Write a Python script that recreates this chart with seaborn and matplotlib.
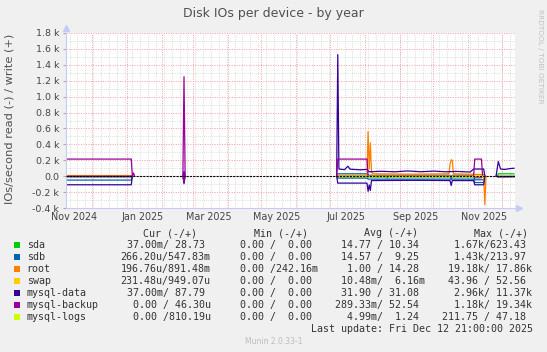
import seaborn as sns
import matplotlib.pyplot as plt
import matplotlib.dates as mdates
import matplotlib.ticker as mticker
from matplotlib.patches import Rectangle
import pandas as pd
import numpy as np

# values: (date, IOs/s), None = no data
sda_read = [("2024-11-08", 0), ("2025-01-05", 0), None,
            ("2025-07-08", -8), ("2025-08-20", -10), ("2025-08-21", -24), ("2025-08-22", -8),
            ("2025-11-15", -8), None, ("2025-11-27", -3), ("2025-12-12", -3)]
sda_write = [("2024-11-08", 0), ("2025-01-05", 0), None,
             ("2025-07-08", 6), ("2025-11-15", 6), None,
             ("2025-11-27", 0), ("2025-11-28", 30), ("2025-12-12", 30)]
sdb_read = [("2024-11-08", -49), ("2025-01-05", -49), ("2025-01-06", 0), None,
            ("2025-07-07", 0), ("2025-07-08", -24), ("2025-08-03", -24), ("2025-08-04", -37),
            ("2025-11-06", -37), ("2025-11-07", -80), ("2025-11-15", -80), ("2025-11-16", 0), None,
            ("2025-11-27", -2), ("2025-12-12", -2)]
sdb_write = [("2024-11-08", 0), ("2025-01-05", 0), None,
             ("2025-07-07", 0), ("2025-07-08", 30), ("2025-08-03", 30), ("2025-08-04", 12),
             ("2025-10-16", 12), ("2025-10-17", -40), ("2025-10-18", 12),
             ("2025-11-06", 12), ("2025-11-07", -45), ("2025-11-15", -45), None,
             ("2025-11-27", 5), ("2025-12-12", 5)]
root_read = [("2024-11-08", 0), ("2025-01-05", 0), None,
             ("2025-07-08", -4), ("2025-11-15", -4), ("2025-11-16", -360), ("2025-11-17", 0), None,
             ("2025-11-27", -2), ("2025-12-12", -2)]
root_write = [("2024-11-08", 8), ("2025-01-05", 8), ("2025-01-06", 0), None,
              ("2025-07-08", 10), ("2025-08-03", 10), ("2025-08-04", 562), ("2025-08-05", 90),
              ("2025-08-06", 420), ("2025-08-07", 60), ("2025-08-08", 30), ("2025-09-10", 25),
              ("2025-10-15", 30), ("2025-10-16", 150), ("2025-10-17", 206), ("2025-10-18", 200),
              ("2025-10-19", 30), ("2025-11-15", 20), None,
              ("2025-11-27", 5), ("2025-12-12", 5)]
swap_read = [("2025-07-08", -2), ("2025-11-15", -2)]
swap_write = [("2025-07-08", 3), ("2025-08-08", 3), ("2025-08-09", 18), ("2025-08-12", 3),
              ("2025-11-15", 3)]
data_read = [("2024-11-08", -108), ("2025-01-05", -108), ("2025-01-06", 0), None,
             ("2025-02-20", 0), ("2025-02-21", -95), ("2025-02-22", 0), None,
             ("2025-07-07", 0), ("2025-07-08", -87), ("2025-08-03", -87), ("2025-08-04", -190),
             ("2025-08-05", -110), ("2025-08-06", -180), ("2025-08-07", -55), ("2025-09-15", -52),
             ("2025-10-16", -55), ("2025-10-17", -117), ("2025-10-18", -55), ("2025-11-06", -55),
             ("2025-11-07", -108), ("2025-11-15", -108), ("2025-11-16", 0), None,
             ("2025-11-26", 0), ("2025-11-28", -8), ("2025-12-12", -5)]
data_write = [("2024-11-08", 0), ("2025-01-05", 0), None,
              ("2025-02-20", 0), ("2025-02-21", 60), ("2025-02-22", 0), None,
              ("2025-07-07", 0), ("2025-07-08", 1527), ("2025-07-09", 90), ("2025-07-14", 82),
              ("2025-07-17", 125), ("2025-07-19", 88), ("2025-07-28", 80), ("2025-08-03", 85),
              ("2025-08-05", 55), ("2025-08-15", 62), ("2025-08-28", 55), ("2025-09-08", 66),
              ("2025-09-20", 56), ("2025-10-02", 64), ("2025-10-12", 55), ("2025-10-22", 60),
              ("2025-11-03", 52), ("2025-11-06", 90), ("2025-11-15", 90), ("2025-11-16", 0), None,
              ("2025-11-26", 0), ("2025-11-28", 185), ("2025-11-30", 90), ("2025-12-04", 85),
              ("2025-12-08", 95), ("2025-12-12", 100)]
backup_read = [("2024-11-08", 0), ("2025-01-05", 0), None,
               ("2025-02-20", 0), ("2025-02-21", -70), ("2025-02-22", 0), None,
               ("2025-07-08", -3), ("2025-11-06", -3), ("2025-11-07", -20), ("2025-11-13", -20),
               ("2025-11-14", 0), None]
backup_write = [("2024-11-08", 215), ("2025-01-05", 215), ("2025-01-06", 0), ("2025-01-07", 40),
                ("2025-01-08", 0), None,
                ("2025-02-20", 0), ("2025-02-21", 1250), ("2025-02-22", 0), None,
                ("2025-07-07", 0), ("2025-07-08", 215), ("2025-08-03", 215), ("2025-08-04", 0),
                ("2025-11-06", 0), ("2025-11-07", 215), ("2025-11-13", 215), ("2025-11-14", 0), None]
logs_read = [("2025-07-08", 0), ("2025-11-15", 0)]
logs_write = [("2025-07-08", 0), ("2025-11-15", 0)]

names = ["sda", "sdb", "root", "swap", "mysql-data", "mysql-backup", "mysql-logs"]
colors = ["#00CC00", "#0066B3", "#FF8000", "#FFCC00", "#330099", "#990099", "#CCFF00"]
reads = [sda_read, sdb_read, root_read, swap_read, data_read, backup_read, logs_read]
writes = [sda_write, sdb_write, root_write, swap_write, data_write, backup_write, logs_write]

cur = [" 37.00m/ 28.73", "266.20u/547.83m", "196.76u/891.48m", "231.48u/949.07u",
       " 37.00m/ 87.79", "  0.00 / 46.30u", "  0.00 /810.19u"]
mins = ["  0.00 /  0.00", "  0.00 /  0.00", "  0.00 /242.16m", "  0.00 /  0.00",
        "  0.00 /  0.00", "  0.00 /  0.00", "  0.00 /  0.00"]
avgs = [" 14.77 / 10.34", " 14.57 /  9.25", "  1.00 / 14.28", " 10.48m/  6.16m",
        " 31.90 / 31.08", "289.33m/ 52.54", "  4.99m/  1.24"]
maxs = ["  1.67k/623.43", "  1.43k/213.97", " 19.18k/ 17.86k", " 43.96 / 52.56",
        "  2.96k/ 11.37k", "  1.18k/ 19.34k", "211.75 / 47.18"]
x_labels_months = [1, 3, 5, 7, 9, 11]


def to_frame(points):
    rows, seg = [], 0
    for p in points:
        if p is None:
            seg += 1
            continue
        rows.append((pd.Timestamp(p[0]), p[1], seg))
    return pd.DataFrame(rows, columns=["date", "value", "seg"])


W, H = 547, 352
fig = plt.figure(figsize=(W / 100, H / 100), dpi=100, facecolor="#F0F0F0")
ax = fig.add_axes([66 / W, 1 - 208 / H, 449 / W, 175 / H])
ax.set_facecolor("white")

start, end = pd.Timestamp("2024-11-07 21:00"), pd.Timestamp("2025-12-12 21:00")

# grid: weekly grey, monthly red
for d in pd.date_range("2024-11-11", end, freq="7D"):
    ax.axvline(d, color="#D4D4D4", lw=0.6, ls=(0, (1, 1.5)), zorder=0)
for d in pd.date_range("2024-12-01", end, freq="MS"):
    ax.axvline(d, color="#F2A0A0", lw=0.7, ls=(0, (1, 1.5)), zorder=0.5)
ax.yaxis.set_major_locator(mticker.MultipleLocator(200))
ax.yaxis.set_minor_locator(mticker.MultipleLocator(100))
ax.grid(which="major", axis="y", color="#F2A0A0", lw=0.7, ls=(0, (1, 1.5)))
ax.grid(which="minor", axis="y", color="#D4D4D4", lw=0.6, ls=(0, (1, 1.5)))
ax.set_axisbelow(True)

for name, c, r, w in zip(names, colors, reads, writes):
    for pts in (r, w):
        df = to_frame(pts)
        sns.lineplot(data=df, x="date", y="value", units="seg", estimator=None,
                     color=c, lw=0.9, ax=ax, legend=False, zorder=2)

ax.axhline(0, color="black", lw=0.8, ls=(0, (2, 1)), zorder=3)

ax.set_xlim(start, end)
ax.set_ylim(-400, 1800)
ax.set_xlabel("")
ax.set_ylabel("")

ax.xaxis.set_major_locator(mdates.MonthLocator(bymonth=x_labels_months, bymonthday=15))
ax.xaxis.set_major_formatter(mdates.DateFormatter("%b %Y"))
ax.xaxis.set_minor_locator(mticker.NullLocator())
ax.tick_params(axis="x", length=0, labelsize=6.9, labelcolor="#444", pad=3)


def kfmt(v, pos):
    if abs(v) < 1e-9:
        return "0.0"
    return "%.1f k" % (v / 1000)


ax.yaxis.set_major_formatter(mticker.FuncFormatter(kfmt))
ax.tick_params(axis="y", which="major", length=2, color="#AAAAAA", labelsize=6.8,
               labelcolor="#444", pad=3)
ax.tick_params(axis="y", which="minor", length=0)

for s in ["top", "right"]:
    ax.spines[s].set_visible(False)
for s in ["left", "bottom"]:
    ax.spines[s].set_color("#C6CBF5")
    ax.spines[s].set_linewidth(0.8)
ax.plot([1.008], [0], marker=">", ms=4, color="#C6CBF5", transform=ax.transAxes, clip_on=False)
ax.plot([0], [1.03], marker="^", ms=4, color="#C6CBF5", transform=ax.transAxes, clip_on=False)


def fx(px):
    return px / W


def fy(py):
    return 1 - py / H


fig.text(fx(273), fy(14), "Disk IOs per device - by year", ha="center", va="center",
         fontsize=9, color="#505050")
fig.text(fx(10), fy(119), "IOs/second read (-) / write (+)", rotation=90, ha="center",
         va="center", fontsize=8.2, color="#505050")
fig.text(fx(540), fy(56), "RRDTOOL / TOBI OETIKER", rotation=270, ha="center", va="center",
         fontsize=5.3, color="#C0C0C0")

mono = dict(family="DejaVu Sans Mono", fontsize=7.2, color="#333", va="center")
for hx, h in zip([143, 253.5, 364, 474], ["Cur (-/+)", "Min (-/+)", "Avg (-/+)", "Max (-/+)"]):
    fig.text(fx(hx), fy(233.3), h, **mono)
for i, (name, c) in enumerate(zip(names, colors)):
    y = 245.3 + 12 * i
    fig.patches.append(Rectangle((fx(14), fy(y + 3)), 6 / W, 6 / H, transform=fig.transFigure,
                                 facecolor=c, edgecolor="none"))
    fig.text(fx(26.7), fy(y), name, **mono)
    for cx, vals in zip([120.7, 227.7, 334.7, 441.7], [cur, mins, avgs, maxs]):
        fig.text(fx(cx), fy(y), vals[i], **mono)
fig.text(fx(533), fy(329.3), "Last update: Fri Dec 12 21:00:00 2025", ha="right", **mono)
fig.text(fx(273.5), fy(341.3), "Munin 2.0.33-1", ha="center", va="center", fontsize=5.5,
         color="#BBBBBB")

fig.savefig("out.png", dpi=100, facecolor=fig.get_facecolor())
